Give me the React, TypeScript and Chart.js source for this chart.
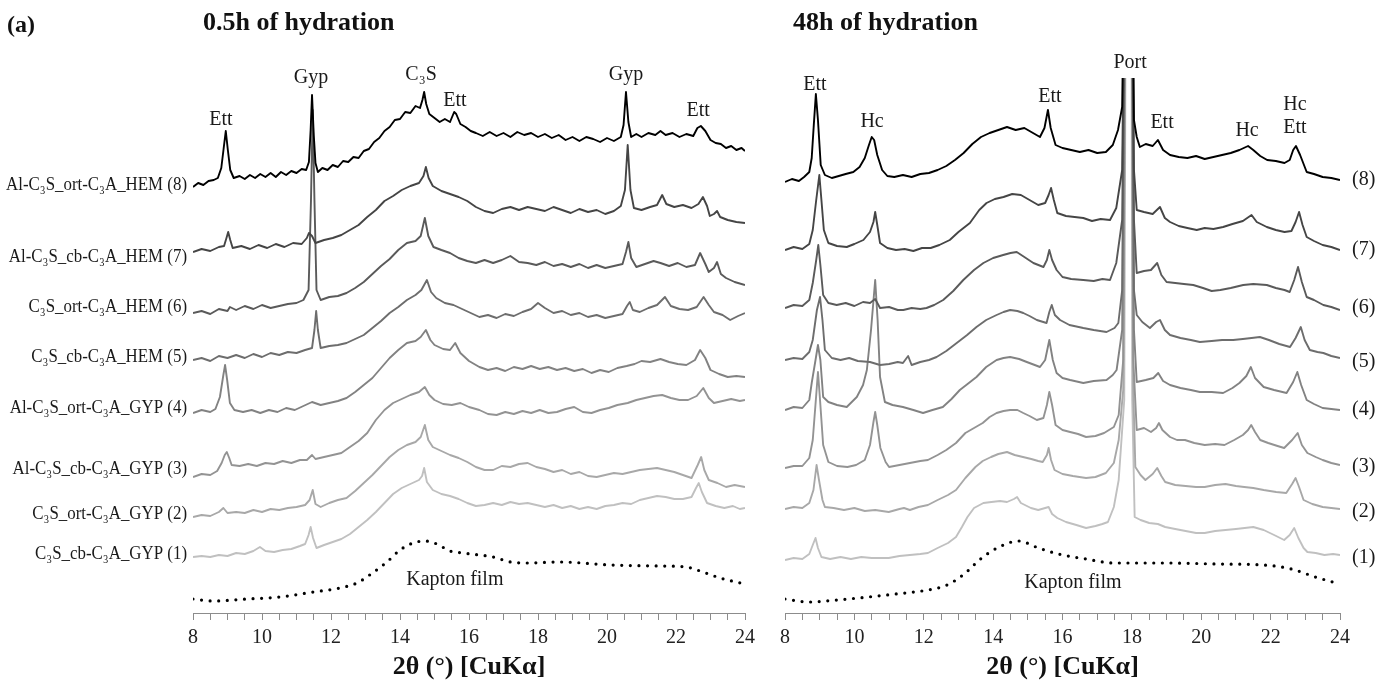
import React, { useEffect, useRef } from "react";
import { Chart, registerables } from "chart.js";

Chart.register(...registerables);

const FONT = '"Liberation Serif", "Times New Roman", serif';

// ---------- 0.5 h of hydration (left panel) : [2θ, offset intensity] ----------
const L8: number[][] = [[8.00,426],[8.15,430],[8.30,428],[8.45,432],[8.60,433],[8.72,435],[8.82,445],[8.89,465],[8.95,482],[9.01,463],[9.08,443],[9.18,435],[9.35,437],[9.50,434],[9.65,438],[9.80,435],[9.95,439],[10.10,436],[10.25,440],[10.40,436],[10.55,441],[10.70,438],[10.85,442],[11.00,440],[11.15,444],[11.28,443],[11.36,451],[11.41,483],[11.45,518],[11.50,478],[11.55,450],[11.62,441],[11.75,445],[11.90,443],[12.05,448],[12.20,446],[12.35,452],[12.50,451],[12.65,456],[12.80,455],[12.95,462],[13.10,464],[13.25,471],[13.40,475],[13.55,482],[13.70,486],[13.85,493],[14.00,494],[14.15,501],[14.30,500],[14.45,507],[14.58,505],[14.65,513],[14.70,521],[14.76,509],[14.85,499],[15.00,495],[15.15,491],[15.30,494],[15.45,491],[15.57,501],[15.63,499],[15.75,489],[15.90,486],[16.05,482],[16.20,480],[16.40,477],[16.60,481],[16.80,477],[17.00,480],[17.20,476],[17.40,481],[17.60,478],[17.80,480],[18.00,476],[18.20,479],[18.40,475],[18.60,478],[18.80,473],[19.00,476],[19.20,472],[19.40,476],[19.60,474],[19.80,471],[20.00,475],[20.20,472],[20.40,476],[20.48,488],[20.55,521],[20.62,491],[20.70,476],[20.85,479],[21.00,476],[21.20,480],[21.40,478],[21.55,482],[21.70,478],[21.90,480],[22.10,476],[22.30,479],[22.50,477],[22.62,485],[22.72,487],[22.85,482],[23.00,473],[23.15,470],[23.30,469],[23.45,465],[23.60,467],[23.75,463],[23.90,465],[24.00,462]];
const L7: number[][] = [[8.00,361],[8.25,364],[8.50,362],[8.75,366],[8.90,367],[8.97,375],[9.02,381],[9.08,373],[9.15,365],[9.40,367],[9.65,364],[9.90,368],[10.15,365],[10.40,369],[10.65,366],[10.90,370],[11.15,369],[11.30,375],[11.36,380],[11.45,377],[11.55,370],[11.80,373],[12.05,375],[12.30,378],[12.55,383],[12.80,388],[13.05,396],[13.30,403],[13.55,412],[13.80,417],[14.05,423],[14.30,427],[14.55,430],[14.68,437],[14.75,446],[14.83,435],[14.95,427],[15.20,422],[15.45,419],[15.70,416],[15.95,412],[16.20,406],[16.45,402],[16.70,400],[16.95,404],[17.20,406],[17.45,403],[17.70,406],[17.95,404],[18.20,402],[18.45,406],[18.70,403],[18.95,400],[19.20,404],[19.45,401],[19.70,403],[19.95,399],[20.20,402],[20.40,407],[20.52,423],[20.60,468],[20.68,423],[20.78,405],[21.00,403],[21.25,406],[21.45,408],[21.60,418],[21.72,409],[21.95,406],[22.20,408],[22.45,405],[22.65,409],[22.78,416],[22.90,407],[22.98,397],[23.10,399],[23.19,402],[23.28,396],[23.50,393],[23.75,391],[24.00,390]];
const L6: number[][] = [[8.00,300],[8.25,302],[8.50,299],[8.75,304],[9.00,302],[9.07,306],[9.25,303],[9.50,307],[9.75,304],[10.00,308],[10.25,305],[10.50,307],[10.75,309],[11.00,310],[11.20,313],[11.35,323],[11.42,413],[11.47,503],[11.52,413],[11.58,323],[11.70,313],[11.95,316],[12.20,317],[12.45,320],[12.70,325],[12.95,331],[13.20,339],[13.45,347],[13.70,354],[13.95,363],[14.20,370],[14.45,372],[14.60,377],[14.72,395],[14.82,377],[14.97,366],[15.20,363],[15.45,360],[15.70,355],[15.95,352],[16.20,350],[16.45,353],[16.70,350],[16.95,353],[17.20,357],[17.45,351],[17.70,350],[17.95,348],[18.20,351],[18.45,347],[18.70,349],[18.95,346],[19.20,349],[19.45,345],[19.70,348],[19.95,345],[20.20,347],[20.45,349],[20.55,361],[20.62,371],[20.70,355],[20.85,346],[21.10,349],[21.35,352],[21.55,350],[21.80,347],[22.05,350],[22.30,346],[22.55,348],[22.70,360],[22.85,349],[22.95,341],[23.10,345],[23.19,351],[23.30,339],[23.45,335],[23.70,331],[24.00,328]];
const L5: number[][] = [[8.00,253],[8.25,255],[8.50,252],[8.75,257],[9.00,255],[9.25,258],[9.50,255],[9.75,259],[10.00,256],[10.25,260],[10.50,258],[10.75,261],[11.00,260],[11.25,263],[11.45,265],[11.52,283],[11.57,302],[11.62,283],[11.70,265],[11.95,267],[12.20,268],[12.45,270],[12.70,274],[12.95,278],[13.20,285],[13.45,292],[13.70,300],[13.95,306],[14.20,313],[14.45,318],[14.62,323],[14.78,333],[14.90,321],[15.05,315],[15.30,310],[15.55,308],[15.80,304],[16.05,300],[16.30,296],[16.55,298],[16.80,295],[17.05,299],[17.30,297],[17.55,301],[17.80,304],[18.00,310],[18.20,305],[18.45,300],[18.70,302],[18.95,298],[19.20,300],[19.45,296],[19.70,298],[19.95,295],[20.20,297],[20.45,299],[20.58,307],[20.66,311],[20.75,303],[20.95,301],[21.20,305],[21.45,308],[21.68,316],[21.85,307],[22.10,304],[22.35,303],[22.60,306],[22.80,316],[22.95,308],[23.10,301],[23.35,298],[23.57,293],[23.80,297],[24.00,300]];
const L4: number[][] = [[8.00,200],[8.25,203],[8.50,201],[8.65,204],[8.78,216],[8.88,238],[8.93,248],[8.99,233],[9.07,210],[9.20,203],[9.45,201],[9.70,203],[9.95,200],[10.20,203],[10.45,201],[10.70,205],[10.95,203],[11.20,207],[11.45,211],[11.70,208],[11.95,210],[12.20,212],[12.45,215],[12.70,221],[12.95,228],[13.20,235],[13.45,245],[13.70,255],[13.95,263],[14.20,270],[14.45,272],[14.60,276],[14.75,283],[14.88,273],[15.00,268],[15.25,264],[15.45,263],[15.60,270],[15.75,260],[16.00,252],[16.30,246],[16.55,243],[16.80,245],[17.05,242],[17.30,246],[17.55,244],[17.80,247],[18.05,244],[18.30,246],[18.55,243],[18.80,245],[19.05,242],[19.30,244],[19.55,240],[19.80,243],[20.05,241],[20.30,245],[20.57,247],[20.80,249],[21.00,252],[21.25,251],[21.55,254],[21.80,251],[22.05,249],[22.30,248],[22.55,253],[22.70,263],[22.85,255],[23.00,243],[23.25,239],[23.50,236],[23.75,237],[24.00,236]];
const L3: number[][] = [[8.00,136],[8.25,139],[8.50,138],[8.70,142],[8.83,150],[8.92,158],[8.98,161],[9.05,155],[9.12,148],[9.35,147],[9.60,149],[9.85,147],[10.10,150],[10.35,149],[10.60,152],[10.85,150],[11.10,153],[11.30,153],[11.45,158],[11.55,154],[11.80,156],[12.05,158],[12.30,160],[12.55,166],[12.80,172],[13.05,180],[13.30,193],[13.55,203],[13.80,210],[14.05,214],[14.30,218],[14.55,221],[14.72,226],[14.85,218],[15.00,213],[15.25,209],[15.50,208],[15.75,210],[16.00,206],[16.30,203],[16.55,199],[16.80,198],[17.05,201],[17.30,199],[17.55,202],[17.80,200],[18.05,203],[18.30,200],[18.55,201],[18.80,204],[19.05,206],[19.30,201],[19.55,200],[19.80,203],[20.05,205],[20.30,208],[20.60,210],[20.85,213],[21.10,215],[21.35,217],[21.60,218],[21.85,215],[22.10,213],[22.35,213],[22.60,217],[22.79,225],[22.95,215],[23.10,210],[23.35,212],[23.60,214],[23.85,212],[24.00,213]];
const L2: number[][] = [[8.00,96],[8.25,98],[8.50,97],[8.75,101],[8.88,105],[9.00,100],[9.25,101],[9.50,100],[9.75,103],[10.00,101],[10.25,104],[10.50,103],[10.75,105],[11.00,106],[11.25,108],[11.38,113],[11.47,123],[11.55,109],[11.70,106],[11.95,110],[12.20,113],[12.45,115],[12.70,122],[12.95,130],[13.20,138],[13.45,147],[13.70,156],[13.95,163],[14.20,168],[14.45,171],[14.60,176],[14.72,188],[14.82,173],[14.95,166],[15.20,162],[15.45,158],[15.70,155],[15.95,151],[16.20,146],[16.45,143],[16.70,143],[16.95,147],[17.20,146],[17.45,149],[17.70,150],[17.95,146],[18.20,144],[18.45,141],[18.70,143],[18.95,139],[19.20,141],[19.45,137],[19.70,136],[19.95,138],[20.20,140],[20.45,139],[20.70,141],[20.95,143],[21.20,144],[21.45,145],[21.70,143],[21.95,141],[22.20,138],[22.45,135],[22.63,148],[22.73,156],[22.82,143],[22.95,133],[23.20,130],[23.45,126],[23.70,128],[24.00,126]];
const L1: number[][] = [[8.00,56],[8.25,57],[8.50,56],[8.75,58],[9.00,57],[9.25,60],[9.50,59],[9.75,62],[9.94,66],[10.10,62],[10.35,61],[10.60,63],[10.85,64],[11.10,67],[11.25,69],[11.35,78],[11.41,86],[11.48,75],[11.58,65],[11.80,68],[12.05,71],[12.30,74],[12.55,79],[12.80,86],[13.05,93],[13.30,101],[13.55,110],[13.80,119],[14.05,125],[14.30,129],[14.55,133],[14.64,137],[14.70,145],[14.78,131],[14.95,123],[15.20,119],[15.45,117],[15.70,114],[15.95,110],[16.20,107],[16.45,108],[16.70,110],[16.95,108],[17.20,111],[17.45,109],[17.70,110],[17.95,108],[18.20,106],[18.45,108],[18.70,105],[18.95,107],[19.20,104],[19.45,106],[19.70,104],[19.95,107],[20.20,108],[20.45,110],[20.70,109],[20.95,113],[21.20,115],[21.45,117],[21.70,116],[21.95,114],[22.20,114],[22.45,116],[22.58,125],[22.66,130],[22.75,121],[22.90,110],[23.15,107],[23.40,105],[23.65,107],[23.85,104],[24.00,105]];
const LK: number[][] = [[8.0,14],[8.58,12],[9.56,14],[10.52,16],[11.48,21],[12.26,25],[12.75,30],[13.2,40],[13.62,51],[14.0,63],[14.38,70],[14.72,72],[15.07,69],[15.45,62],[15.83,60],[16.3,58],[16.7,56],[17.2,51],[17.7,50],[18.64,51],[20.1,48],[21.54,47],[22.3,46],[22.7,42],[23.28,35],[24.0,29]];

// ---------- 48 h of hydration (right panel) ----------
const R8: number[][] = [[8.00,431],[8.20,434],[8.40,432],[8.55,436],[8.70,441],[8.77,455],[8.83,488],[8.89,519],[8.95,493],[9.03,448],[9.15,438],[9.35,435],[9.55,437],[9.75,439],[9.97,441],[10.15,446],[10.30,455],[10.42,468],[10.50,476],[10.57,473],[10.66,458],[10.80,443],[10.95,437],[11.15,436],[11.40,438],[11.65,436],[11.90,439],[12.15,440],[12.40,443],[12.65,447],[12.90,453],[13.15,460],[13.40,469],[13.65,476],[13.90,480],[14.15,483],[14.40,486],[14.65,483],[14.90,485],[15.15,480],[15.35,476],[15.48,485],[15.58,503],[15.66,485],[15.80,468],[16.00,465],[16.25,463],[16.50,461],[16.75,463],[17.00,460],[17.25,461],[17.45,468],[17.60,483],[17.72,506],[17.84,800],[17.91,1300],[17.98,800],[18.06,493],[18.14,476],[18.23,466],[18.40,469],[18.60,467],[18.75,473],[18.90,463],[19.10,458],[19.35,456],[19.60,455],[19.85,457],[20.10,454],[20.35,456],[20.60,458],[20.85,460],[21.10,463],[21.35,467],[21.50,463],[21.70,457],[21.90,453],[22.15,452],[22.40,450],[22.55,453],[22.65,463],[22.73,467],[22.85,458],[23.04,441],[23.25,439],[23.50,436],[23.75,435],[24.00,433]];
const R7: number[][] = [[8.00,363],[8.25,366],[8.50,364],[8.70,369],[8.80,383],[8.90,413],[8.99,438],[9.05,413],[9.12,383],[9.25,370],[9.50,367],[9.78,366],[10.00,369],[10.26,373],[10.45,381],[10.55,391],[10.60,401],[10.66,388],[10.74,370],[10.95,365],[11.20,363],[11.45,364],[11.70,362],[11.95,365],[12.20,365],[12.45,368],[12.75,373],[13.00,381],[13.33,390],[13.60,403],[13.81,410],[14.05,414],[14.30,416],[14.55,419],[14.80,418],[15.05,413],[15.30,408],[15.50,410],[15.60,418],[15.67,425],[15.75,413],[15.85,400],[16.10,397],[16.35,396],[16.60,395],[16.85,392],[17.10,394],[17.37,393],[17.55,405],[17.72,443],[17.84,800],[17.91,1300],[17.98,800],[18.06,443],[18.14,403],[18.35,401],[18.60,399],[18.81,406],[18.95,395],[19.10,391],[19.35,387],[19.60,385],[19.87,383],[20.10,385],[20.35,384],[20.63,386],[20.90,389],[21.20,392],[21.45,398],[21.60,391],[21.89,386],[22.15,383],[22.40,381],[22.60,382],[22.72,391],[22.82,401],[22.92,388],[23.04,376],[23.25,372],[23.50,368],[23.75,366],[24.00,363]];
const R6: number[][] = [[8.00,305],[8.25,308],[8.50,307],[8.70,313],[8.80,330],[8.90,353],[8.96,368],[9.02,348],[9.10,318],[9.25,310],[9.49,308],[9.75,310],[10.00,307],[10.25,311],[10.45,310],[10.60,314],[10.74,305],[11.00,306],[11.25,303],[11.41,303],[11.65,305],[11.90,304],[12.08,305],[12.30,308],[12.56,313],[12.85,322],[13.14,333],[13.45,343],[13.72,350],[14.00,355],[14.29,358],[14.50,360],[14.68,361],[14.90,356],[15.16,350],[15.45,346],[15.55,353],[15.62,363],[15.70,353],[15.83,343],[16.00,336],[16.25,334],[16.60,333],[16.90,332],[17.15,334],[17.37,333],[17.55,350],[17.72,393],[17.84,800],[17.91,1300],[17.98,800],[18.06,393],[18.14,340],[18.35,342],[18.55,343],[18.73,350],[18.85,338],[19.00,331],[19.25,330],[19.50,329],[19.77,328],[20.05,325],[20.30,322],[20.55,323],[20.85,325],[21.21,328],[21.50,329],[21.89,328],[22.15,325],[22.40,323],[22.55,321],[22.68,333],[22.79,346],[22.90,331],[23.04,316],[23.25,313],[23.52,308],[23.75,306],[24.00,303]];
const R5: number[][] = [[8.00,253],[8.25,255],[8.50,254],[8.70,261],[8.80,273],[8.92,303],[9.01,316],[9.08,293],[9.15,263],[9.35,255],[9.60,253],[9.85,255],[10.10,252],[10.45,251],[10.74,248],[11.00,249],[11.25,251],[11.40,250],[11.55,257],[11.65,248],[11.90,251],[12.15,253],[12.37,256],[12.65,262],[12.95,270],[13.25,278],[13.52,286],[13.80,293],[14.10,298],[14.30,301],[14.49,303],[14.70,302],[14.87,300],[15.05,297],[15.26,293],[15.54,290],[15.62,301],[15.69,308],[15.78,298],[15.93,293],[16.20,288],[16.60,285],[16.90,283],[17.27,281],[17.50,285],[17.61,290],[17.72,323],[17.84,800],[17.91,1300],[17.98,800],[18.06,323],[18.14,298],[18.30,291],[18.52,285],[18.70,291],[18.81,293],[18.95,283],[19.10,278],[19.40,275],[19.70,273],[19.96,271],[20.30,272],[20.60,273],[20.92,273],[21.20,274],[21.45,275],[21.69,276],[21.95,273],[22.25,269],[22.56,266],[22.72,275],[22.87,286],[22.98,273],[23.13,263],[23.35,261],[23.52,260],[23.75,257],[24.00,255]];
const R4: number[][] = [[8.00,203],[8.25,206],[8.50,205],[8.70,213],[8.77,230],[8.88,253],[8.95,268],[9.02,253],[9.10,216],[9.25,211],[9.50,208],[9.78,206],[10.07,216],[10.25,228],[10.36,243],[10.48,283],[10.60,333],[10.67,293],[10.74,236],[10.88,211],[11.10,208],[11.40,206],[11.70,203],[11.98,200],[12.25,203],[12.55,206],[12.80,214],[13.04,223],[13.30,230],[13.52,236],[13.80,246],[14.10,253],[14.30,255],[14.49,256],[14.75,254],[14.97,251],[15.20,248],[15.35,246],[15.50,253],[15.62,273],[15.72,253],[15.83,240],[16.00,235],[16.22,233],[16.60,230],[16.90,232],[17.27,233],[17.45,238],[17.56,243],[17.72,283],[17.84,800],[17.91,1300],[17.98,800],[18.06,283],[18.14,231],[18.40,233],[18.62,235],[18.76,240],[18.90,232],[19.10,228],[19.40,225],[19.70,223],[19.96,221],[20.30,221],[20.63,220],[20.90,225],[21.10,230],[21.30,237],[21.43,246],[21.55,235],[21.80,226],[22.10,223],[22.46,220],[22.65,231],[22.77,241],[22.88,228],[23.04,213],[23.25,209],[23.50,205],[23.75,204],[24.00,203]];
const R3: number[][] = [[8.00,145],[8.25,147],[8.50,147],[8.70,155],[8.80,173],[8.90,218],[8.95,241],[9.00,218],[9.10,168],[9.25,151],[9.50,147],[9.80,146],[10.05,148],[10.30,153],[10.45,168],[10.55,191],[10.60,201],[10.66,188],[10.75,165],[10.90,151],[11.00,146],[11.30,148],[11.60,150],[11.90,152],[12.12,153],[12.40,158],[12.65,163],[12.93,170],[13.20,180],[13.45,185],[13.70,190],[13.90,196],[14.10,200],[14.30,202],[14.49,203],[14.70,203],[14.87,200],[15.05,197],[15.26,193],[15.45,195],[15.55,208],[15.62,221],[15.70,208],[15.80,188],[16.00,183],[16.22,181],[16.45,179],[16.68,176],[16.95,177],[17.20,180],[17.48,186],[17.62,198],[17.75,253],[17.84,800],[17.91,1300],[17.98,800],[18.04,253],[18.14,183],[18.35,185],[18.55,181],[18.70,185],[18.78,190],[18.88,183],[19.10,176],[19.30,173],[19.53,173],[19.80,170],[20.10,168],[20.40,169],[20.67,168],[20.95,173],[21.20,178],[21.35,183],[21.44,188],[21.55,181],[21.70,173],[21.93,170],[22.20,167],[22.39,165],[22.62,173],[22.78,180],[22.90,168],[23.06,160],[23.30,156],[23.50,153],[23.75,150],[24.00,148]];
const R2: number[][] = [[8.00,104],[8.25,106],[8.50,105],[8.70,110],[8.82,123],[8.91,148],[8.98,133],[9.08,113],[9.15,106],[9.40,105],[9.70,103],[10.00,105],[10.30,102],[10.60,103],[10.99,101],[11.30,104],[11.43,105],[11.60,103],[11.85,106],[12.12,108],[12.40,113],[12.70,118],[12.93,123],[13.20,135],[13.49,146],[13.70,152],[13.94,156],[14.15,159],[14.40,161],[14.62,158],[14.86,156],[15.10,154],[15.30,152],[15.43,151],[15.55,158],[15.60,165],[15.67,153],[15.77,143],[16.00,139],[16.30,137],[16.68,135],[16.95,136],[17.25,140],[17.48,150],[17.62,173],[17.75,223],[17.84,800],[17.91,1300],[17.98,800],[18.04,223],[18.10,146],[18.25,138],[18.39,133],[18.60,139],[18.73,145],[18.85,137],[18.96,131],[19.25,128],[19.55,127],[19.85,126],[20.10,126],[20.40,128],[20.70,129],[21.00,127],[21.24,126],[21.50,125],[21.80,123],[22.16,121],[22.45,120],[22.62,129],[22.72,135],[22.82,126],[22.95,113],[23.20,109],[23.50,106],[23.75,105],[24.00,104]];
const R1: number[][] = [[8.00,53],[8.25,55],[8.50,54],[8.70,59],[8.80,68],[8.88,75],[8.95,65],[9.05,56],[9.30,54],[9.60,56],[9.90,54],[10.20,56],[10.50,55],[10.99,55],[11.30,57],[11.60,58],[11.90,59],[12.12,60],[12.40,65],[12.70,70],[12.93,76],[13.10,86],[13.26,96],[13.45,105],[13.72,110],[13.95,111],[14.20,112],[14.40,111],[14.60,114],[14.69,116],[14.80,110],[15.09,105],[15.30,103],[15.50,105],[15.60,106],[15.70,99],[15.85,95],[16.10,91],[16.40,88],[16.68,85],[16.95,87],[17.15,89],[17.31,91],[17.48,106],[17.62,133],[17.78,213],[17.84,800],[17.91,1300],[17.98,800],[18.01,213],[18.08,96],[18.25,93],[18.50,90],[18.75,89],[18.96,86],[19.25,84],[19.55,82],[19.85,80],[20.10,80],[20.40,82],[20.70,83],[21.00,84],[21.25,85],[21.50,86],[21.80,83],[22.10,78],[22.39,73],[22.55,78],[22.68,85],[22.80,75],[22.95,65],[23.06,61],[23.30,60],[23.55,58],[23.80,59],[24.00,58]];
const RK: number[][] = [[8.0,14],[8.7,11],[9.5,13],[10.4,16],[11.2,19],[12.12,23],[12.6,27],[12.93,33],[13.3,43],[13.6,53],[14.17,66],[14.74,72],[15.31,65],[15.88,59],[16.68,54],[17.48,50],[18.96,50],[20.5,49],[21.8,48],[22.6,44],[23.29,36],[24.0,29]];

// ---------- series styling / labels ----------
const SERIES_COLORS = ["#000000", "#454545", "#5a5a5a", "#6d6d6d", "#828282", "#939393", "#a8a8a8", "#c0c0c0"];
const LEFT_NAMES = [
  "Al-C₃S_ort-C₃A_HEM (8)",
  "Al-C₃S_cb-C₃A_HEM (7)",
  "C₃S_ort-C₃A_HEM (6)",
  "C₃S_cb-C₃A_HEM (5)",
  "Al-C₃S_ort-C₃A_GYP (4)",
  "Al-C₃S_cb-C₃A_GYP (3)",
  "C₃S_ort-C₃A_GYP (2)",
  "C₃S_cb-C₃A_GYP (1)",
];
const LEFT_NAME_Y = [428, 356, 306, 256, 205, 144, 99, 59];
const RIGHT_NAMES = ["(8)", "(7)", "(6)", "(5)", "(4)", "(3)", "(2)", "(1)"];
const RIGHT_NAME_Y = [433, 363, 305, 251, 203, 146, 101, 55];

const LEFT_PEAK_TEXT = ["Ett", "Gyp", "C₃S", "Ett", "Gyp", "Ett"];
const LEFT_PEAK_X = [8.81, 11.42, 14.61, 15.59, 20.55, 22.64];
const LEFT_PEAK_Y = [493, 535, 538, 512, 538, 502];
const RIGHT_PEAK_TEXT = ["Ett", "Hc", "Ett", "Port", "Ett", "Hc", "Hc", "Ett"];
const RIGHT_PEAK_X = [8.86, 10.51, 15.64, 17.95, 18.87, 21.32, 22.7, 22.7];
const RIGHT_PEAK_Y = [528, 491, 516, 550, 490, 482, 508, 485];
const KAPTON_LABEL = "Kapton film";
const LEFT_KAPTON_POS = [15.59, 33];
const RIGHT_KAPTON_POS = [16.3, 30];

const X_TICK_STEP = 0.5;
const AXIS_TITLE = "2θ (°) [CuKα]";
const LEFT_NAME_WIDTH = 181; // width of the widest left-hand sample label

function textPlugin(
  peakText: string[], peakX: number[], peakY: number[],
  names: string[], nameY: number[], side: "left" | "right", kapton: number[]
) {
  return {
    id: "xrdText",
    afterDraw(chart: any) {
      const { ctx, chartArea } = chart;
      const xs = chart.scales.x;
      const ys = chart.scales.y;
      ctx.save();
      ctx.fillStyle = "#1a1a1a";
      ctx.textBaseline = "middle";
      ctx.textAlign = "center";
      ctx.font = `20px ${FONT}`;
      peakText.forEach((t, i) => ctx.fillText(t, xs.getPixelForValue(peakX[i]), ys.getPixelForValue(peakY[i])));
      ctx.fillText(KAPTON_LABEL, xs.getPixelForValue(kapton[0]), ys.getPixelForValue(kapton[1]));
      if (side === "left") {
        ctx.font = `18px ${FONT}`;
        ctx.textAlign = "right";
        const widest = Math.max(...names.map((t) => ctx.measureText(t).width));
        const k = Math.min(1, LEFT_NAME_WIDTH / widest);
        names.forEach((t, i) => {
          ctx.save();
          ctx.translate(chartArea.left - 6, ys.getPixelForValue(nameY[i]));
          ctx.scale(k, 1);
          ctx.fillText(t, 0, 0);
          ctx.restore();
        });
      } else {
        ctx.font = `20px ${FONT}`;
        ctx.textAlign = "left";
        names.forEach((t, i) => ctx.fillText(t, chartArea.right + 12, ys.getPixelForValue(nameY[i])));
      }
      ctx.restore();
    },
  };
}

function toXY(arr: number[][]) {
  return arr.map((p) => ({ x: p[0], y: p[1] }));
}

function buildConfig(traces: number[][][], kapton: number[][], padLeft: number, padRight: number, plugin: any) {
  const datasets: any[] = traces.map((t, i) => ({
    data: toXY(t),
    borderColor: SERIES_COLORS[i],
    borderWidth: 1.9,
    borderJoinStyle: "round",
    pointRadius: 0,
    fill: false,
    tension: 0,
  }));
  datasets.push({
    data: toXY(kapton),
    borderColor: "#000000",
    borderWidth: 3.2,
    borderDash: [0, 8.6],
    borderCapStyle: "round",
    pointRadius: 0,
    fill: false,
    cubicInterpolationMode: "monotone",
  });
  return {
    type: "line",
    data: { datasets },
    options: {
      responsive: false,
      animation: false,
      events: [],
      layout: { padding: { left: padLeft, right: padRight, top: 78, bottom: 0 } },
      plugins: { legend: { display: false }, tooltip: { enabled: false }, title: { display: false } },
      scales: {
        x: {
          type: "linear",
          min: 8,
          max: 24,
          afterFit: (s: any) => { s.height = 74; },
          ticks: {
            stepSize: X_TICK_STEP,
            autoSkip: false,
            maxRotation: 0,
            padding: 6,
            color: "#222",
            font: { family: FONT, size: 20 },
            callback: (v: any) => (Math.abs(v % 2) < 1e-9 ? String(v) : ""),
          },
          grid: { drawOnChartArea: false, drawTicks: true, tickLength: 7, color: "#8c8c8c", lineWidth: 1 },
          border: { display: true, color: "#8c8c8c", width: 1 },
          title: {
            display: true,
            text: AXIS_TITLE,
            color: "#111",
            font: { family: FONT, size: 26, weight: "bold" },
            padding: { top: 0, bottom: 4 },
          },
        },
        y: { display: false, min: 0, max: 535 },
      },
    },
    plugins: [plugin],
  };
}

export default function App() {
  const leftRef = useRef<HTMLCanvasElement>(null);
  const rightRef = useRef<HTMLCanvasElement>(null);

  useEffect(() => {
    const left = new Chart(
      leftRef.current as HTMLCanvasElement,
      buildConfig([L8, L7, L6, L5, L4, L3, L2, L1], LK, 193, 20,
        textPlugin(LEFT_PEAK_TEXT, LEFT_PEAK_X, LEFT_PEAK_Y, LEFT_NAMES, LEFT_NAME_Y, "left", LEFT_KAPTON_POS)) as any
    );
    const right = new Chart(
      rightRef.current as HTMLCanvasElement,
      buildConfig([R8, R7, R6, R5, R4, R3, R2, R1], RK, 20, 50,
        textPlugin(RIGHT_PEAK_TEXT, RIGHT_PEAK_X, RIGHT_PEAK_Y, RIGHT_NAMES, RIGHT_NAME_Y, "right", RIGHT_KAPTON_POS)) as any
    );
    return () => {
      left.destroy();
      right.destroy();
    };
  }, []);

  const titleStyle: React.CSSProperties = {
    position: "absolute",
    fontFamily: FONT,
    fontWeight: "bold",
    lineHeight: 1,
    whiteSpace: "nowrap",
    color: "#111",
  };

  return (
    <div style={{ position: "absolute", left: 0, top: 0, width: 1390, height: 687, background: "#ffffff", overflow: "hidden" }}>
      <canvas ref={leftRef} width={765} height={687} style={{ position: "absolute", left: 0, top: 0 }} />
      <canvas ref={rightRef} width={625} height={687} style={{ position: "absolute", left: 765, top: 0 }} />
      <div style={{ ...titleStyle, left: 7, top: 12, fontSize: 24 }}>(a)</div>
      <div style={{ ...titleStyle, left: 203, top: 9, fontSize: 26 }}>0.5h of hydration</div>
      <div style={{ ...titleStyle, left: 793, top: 9, fontSize: 26 }}>48h of hydration</div>
    </div>
  );
}
